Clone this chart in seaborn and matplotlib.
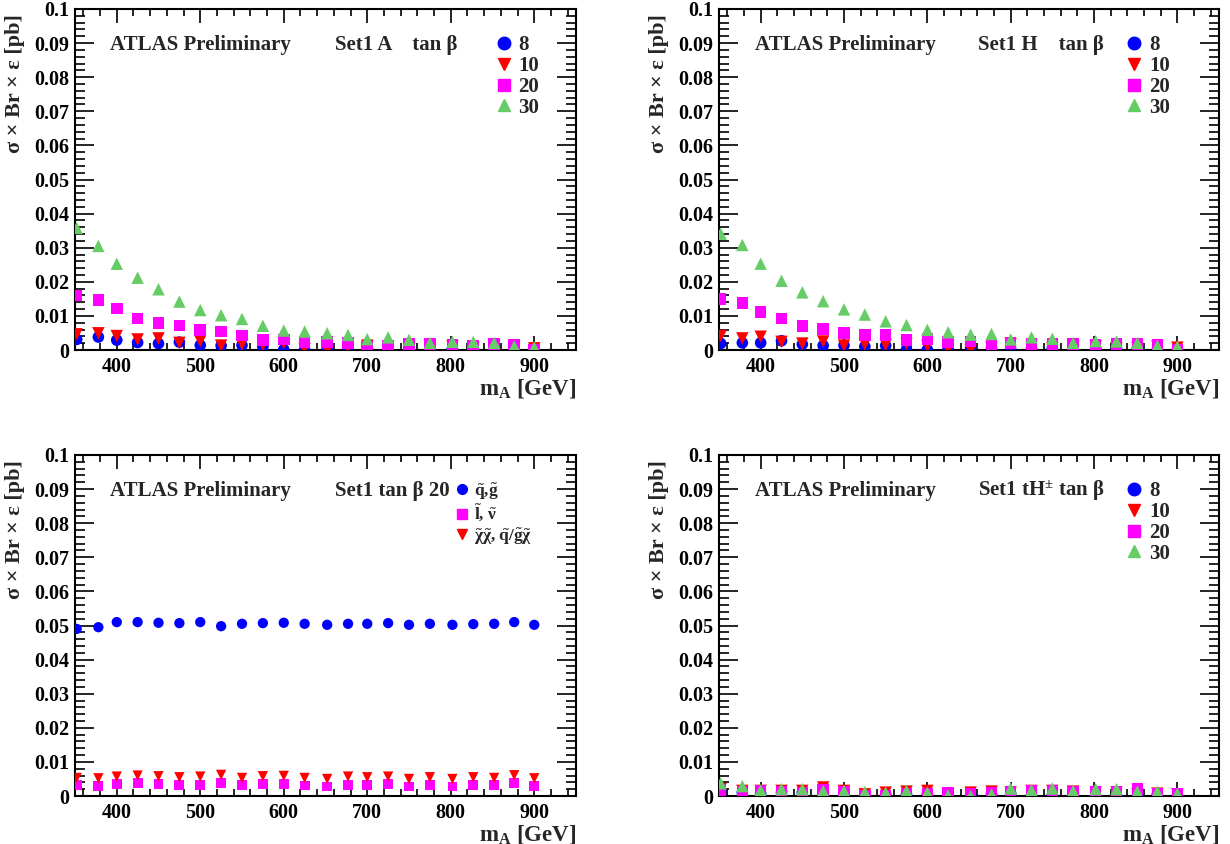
import matplotlib
matplotlib.use("Agg")
import matplotlib.pyplot as plt
import seaborn as sns
from matplotlib.lines import Line2D
from matplotlib.ticker import MultipleLocator, FuncFormatter

# ---------------- data ----------------
mass = [352, 378, 400, 425, 450, 475, 500, 525, 550, 575, 600, 625,
        652, 677, 700, 725, 750, 775, 802, 827, 852, 876, 900]

tanb_labels = ["8", "10", "20", "30"]

# Set1 A
a_tb8 = [0.0031, 0.0038, 0.0029, 0.0022, 0.0019, 0.0023, 0.0014, 0.0013, 0.0014, 0.0009, 0.0001, 0.0001,
         0.0003, 0.0006, 0.0005, 0.0003, 0.0004, 0.0005, 0.0003, 0.0003, 0.0005, 0.0001, 0.0000]
a_tb10 = [0.0046, 0.0049, 0.0041, 0.0031, 0.0034, 0.0021, 0.0026, 0.0013, 0.0017, 0.0015, 0.0020, 0.0003,
          0.0000, 0.0006, 0.0013, 0.0010, 0.0008, 0.0010, 0.0010, 0.0005, 0.0010, 0.0005, 0.0005]
a_tb20 = [0.0160, 0.0147, 0.0122, 0.0092, 0.0079, 0.0072, 0.0059, 0.0054, 0.0043, 0.0029, 0.0031, 0.0023,
          0.0024, 0.0020, 0.0010, 0.0013, 0.0017, 0.0018, 0.0014, 0.0013, 0.0017, 0.0014, 0.0000]
a_tb30 = [0.0358, 0.0305, 0.0253, 0.0212, 0.0178, 0.0142, 0.0117, 0.0102, 0.0091, 0.0071, 0.0057, 0.0054,
          0.0049, 0.0044, 0.0032, 0.0037, 0.0030, 0.0021, 0.0024, 0.0024, 0.0021, 0.0011, 0.0008]

# Set1 H
h_tb8 = [0.0019, 0.0021, 0.0021, 0.0027, 0.0017, 0.0013, 0.0014, 0.0010, 0.0013, 0.0001, 0.0001, 0.0003,
         0.0007, 0.0007, 0.0003, 0.0005, 0.0005, 0.0003, 0.0005, 0.0005, 0.0005, 0.0001, 0.0000]
h_tb10 = [0.0041, 0.0034, 0.0039, 0.0024, 0.0019, 0.0025, 0.0013, 0.0017, 0.0015, 0.0018, 0.0012, 0.0003,
          0.0000, 0.0006, 0.0017, 0.0010, 0.0005, 0.0008, 0.0010, 0.0005, 0.0006, 0.0010, 0.0007]
h_tb20 = [0.0149, 0.0138, 0.0112, 0.0092, 0.0070, 0.0062, 0.0049, 0.0044, 0.0044, 0.0029, 0.0032, 0.0024,
          0.0025, 0.0015, 0.0020, 0.0017, 0.0018, 0.0017, 0.0015, 0.0018, 0.0018, 0.0014, 0.0002]
h_tb30 = [0.0341, 0.0308, 0.0253, 0.0203, 0.0169, 0.0143, 0.0119, 0.0104, 0.0084, 0.0073, 0.0059, 0.0052,
          0.0045, 0.0047, 0.0031, 0.0037, 0.0033, 0.0021, 0.0026, 0.0025, 0.0021, 0.0012, 0.0010]

# Set1 tan beta 20, by production
proc_labels = [r"$\tilde{\mathrm{q}}$,$\tilde{\mathrm{g}}$",
               r"$\tilde{\mathrm{l}}$, $\tilde{\nu}$",
               r"$\tilde{\chi}\tilde{\chi}$, $\tilde{\mathrm{q}}/\tilde{\mathrm{g}}\tilde{\chi}$"]
p_qg = [0.0490, 0.0495, 0.0510, 0.0510, 0.0508, 0.0507, 0.0510, 0.0498, 0.0505, 0.0507, 0.0508, 0.0505,
        0.0502, 0.0505, 0.0505, 0.0507, 0.0502, 0.0505, 0.0502, 0.0504, 0.0505, 0.0510, 0.0502]
p_lv = [0.0032, 0.0030, 0.0034, 0.0037, 0.0036, 0.0033, 0.0033, 0.0037, 0.0032, 0.0034, 0.0035, 0.0031,
        0.0028, 0.0033, 0.0032, 0.0034, 0.0028, 0.0032, 0.0028, 0.0032, 0.0032, 0.0038, 0.0029]
p_cc = [0.0053, 0.0052, 0.0057, 0.0060, 0.0058, 0.0055, 0.0057, 0.0062, 0.0053, 0.0058, 0.0059, 0.0053,
        0.0050, 0.0057, 0.0055, 0.0057, 0.0050, 0.0055, 0.0050, 0.0055, 0.0053, 0.0061, 0.0052]

# Set1 tH+-
t_tb8 = [0.0015, 0.0010, 0.0007, 0.0010, 0.0010, 0.0015, 0.0000, 0.0005, 0.0005, 0.0005, 0.0005, 0.0005,
         0.0003, 0.0005, 0.0007, 0.0002, 0.0003, 0.0000, 0.0000, 0.0002, 0.0000, 0.0005, 0.0000]
t_tb10 = [0.0020, 0.0015, 0.0015, 0.0015, 0.0015, 0.0025, 0.0015, 0.0005, 0.0010, 0.0013, 0.0015, 0.0005,
          0.0010, 0.0013, 0.0010, 0.0015, 0.0015, 0.0013, 0.0010, 0.0010, 0.0005, 0.0007, 0.0005]
t_tb20 = [0.0017, 0.0013, 0.0015, 0.0013, 0.0010, 0.0017, 0.0013, 0.0002, 0.0002, 0.0007, 0.0007, 0.0010,
          0.0005, 0.0008, 0.0013, 0.0015, 0.0015, 0.0013, 0.0013, 0.0013, 0.0020, 0.0007, 0.0005]
t_tb30 = [0.0037, 0.0029, 0.0017, 0.0020, 0.0020, 0.0015, 0.0015, 0.0012, 0.0010, 0.0015, 0.0010, 0.0002,
          0.0000, 0.0005, 0.0022, 0.0017, 0.0022, 0.0015, 0.0020, 0.0020, 0.0013, 0.0013, 0.0007]

# ---------------- style ----------------
sns.set_theme(style="ticks")
plt.rcParams.update({
    "font.family": ["Liberation Serif", "DejaVu Serif"],
    "font.weight": "bold",
    "mathtext.fontset": "custom",
    "mathtext.rm": "Liberation Serif:bold",
    "mathtext.it": "Liberation Serif:bold:italic",
    "mathtext.bf": "Liberation Serif:bold",
    "mathtext.default": "rm",
    "axes.linewidth": 1.5,
    "axes.edgecolor": "black",
    "axes.facecolor": "white",
    "figure.facecolor": "white",
    "xtick.color": "black",
    "ytick.color": "black",
})

BLUE, RED, MAG, GREEN = "#0000ff", "#ff0000", "#ff00ff", "#66cc66"
tb_styles = [("o", BLUE, 70), ("v", RED, 80), ("s", MAG, 70), ("^", GREEN, 80)]
proc_styles = [("o", BLUE, 55), ("s", MAG, 50), ("v", RED, 55)]

W, H = 1230.0, 844.0
fig = plt.figure(figsize=(W / 100, H / 100), dpi=100)
# (left px, top px, width px)
boxes = {"TL": (75, 9, 501), "TR": (719, 9, 500), "BL": (75, 455, 501), "BR": (719, 455, 500)}
PH = 341
axes = {}
for k, (lx, ty, wd) in boxes.items():
    axes[k] = fig.add_axes([lx / W, 1 - (ty + PH) / H, wd / W, PH / H])


def style_axes(ax, key):
    ax.set_xlim(350, 950)
    ax.set_ylim(0, 0.1)
    ax.xaxis.set_major_locator(MultipleLocator(100))
    ax.xaxis.set_minor_locator(MultipleLocator(20))
    ax.yaxis.set_major_locator(MultipleLocator(0.01))
    ax.yaxis.set_minor_locator(MultipleLocator(0.002))
    ax.yaxis.set_major_formatter(FuncFormatter(lambda v, p: f"{v:g}"))
    ax.xaxis.set_major_formatter(FuncFormatter(lambda v, p: f"{v:g}" if 400 <= v <= 900 else ""))
    ax.tick_params(axis="both", which="both", direction="in", top=True, right=True,
                   labelsize=14.5, width=1.2, colors="black")
    ax.tick_params(axis="x", which="major", length=10, pad=5)
    ax.tick_params(axis="x", which="minor", length=5)
    ax.tick_params(axis="y", which="major", length=14, pad=4)
    ax.tick_params(axis="y", which="minor", length=7)
    for lab in ax.get_xticklabels() + ax.get_yticklabels():
        lab.set_fontweight("bold")
    ax.set_ylabel("")
    lx, ty, wd = boxes[key]
    fig.text((lx - 60) / W, 1 - (ty + 5) / H, "σ × Br × ε [pb]", rotation=90,
             fontsize=16, fontweight="bold", ha="center", va="top")
    ax.set_xlabel(r"m$_{\mathrm{A}}$ [GeV]", fontsize=16.5, fontweight="bold", loc="right", labelpad=0)
    for s in ax.spines.values():
        s.set_visible(True)
        s.set_linewidth(1.5)


def scatter_series(ax, series, styles):
    for vals, (mk, col, sz) in zip(series, styles):
        sns.scatterplot(x=mass, y=vals, ax=ax, marker=mk, color=col, s=sz,
                        edgecolor="none", linewidth=0, legend=False, zorder=3)


def add_legend(ax, labels, styles, x0, y0, fs, ms, sp):
    handles = [Line2D([], [], marker=mk, color=col, linestyle="none", markersize=ms)
               for mk, col, _ in styles]
    ax.legend(handles, labels, loc="upper left", bbox_to_anchor=(x0, y0), frameon=False,
              handlelength=1.0, handletextpad=0.2, labelspacing=sp,
              borderpad=0, borderaxespad=0, prop={"weight": "bold", "size": fs})


def add_texts(ax, x1, x2, s2):
    ax.text(x1, 0.894, "ATLAS Preliminary", transform=ax.transAxes, fontsize=15,
            fontweight="bold", va="center", ha="left")
    ax.text(x2, 0.894, s2, transform=ax.transAxes, fontsize=15,
            fontweight="bold", va="center", ha="left")


# top-left
ax = axes["TL"]
scatter_series(ax, [a_tb8, a_tb10, a_tb20, a_tb30], tb_styles)
style_axes(ax, "TL")
add_texts(ax, 0.07, 0.519, "Set1 A    tan β")
add_legend(ax, tanb_labels, tb_styles, 0.835, 0.923, 15, 9, 0.04)

# top-right
ax = axes["TR"]
scatter_series(ax, [h_tb8, h_tb10, h_tb20, h_tb30], tb_styles)
style_axes(ax, "TR")
add_texts(ax, 0.072, 0.518, "Set1 H    tan β")
add_legend(ax, tanb_labels, tb_styles, 0.81, 0.923, 15, 9, 0.04)

# bottom-left
ax = axes["BL"]
scatter_series(ax, [p_qg, p_lv, p_cc], proc_styles)
style_axes(ax, "BL")
add_texts(ax, 0.07, 0.519, "Set1 tan β 20")
add_legend(ax, proc_labels, proc_styles, 0.755, 0.925, 12.5, 7, 0.08)

# bottom-right
ax = axes["BR"]
scatter_series(ax, [t_tb8, t_tb10, t_tb20, t_tb30], tb_styles)
style_axes(ax, "BR")
add_texts(ax, 0.072, 0.518, r"Set1 tH$^{\pm}$ tan β")
add_legend(ax, tanb_labels, tb_styles, 0.81, 0.923, 15, 9, 0.04)

fig.savefig("out.png", dpi=100)
